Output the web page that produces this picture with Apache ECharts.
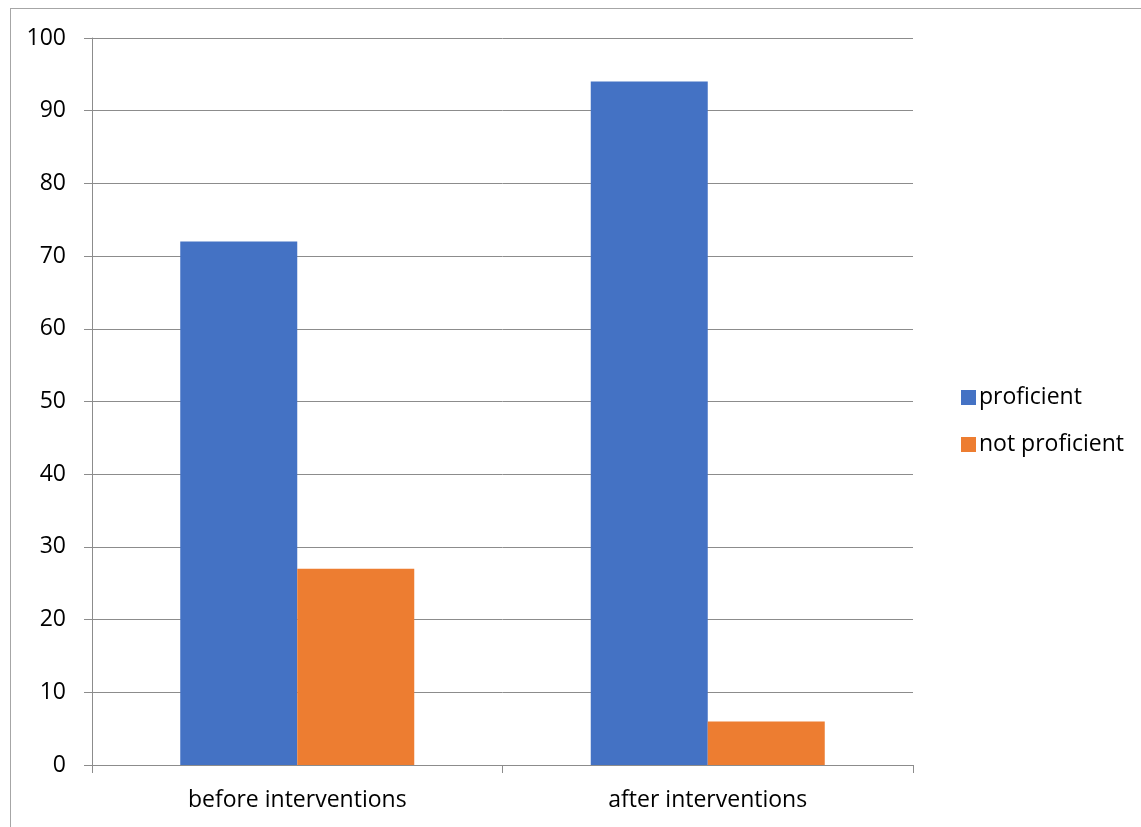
<!DOCTYPE html>
<html>
<head>
<meta charset="utf-8">
<script src="https://cdn.jsdelivr.net/npm/echarts@6/dist/echarts.min.js"></script>
<style>
  html, body { margin: 0; padding: 0; background: #fff; }
  #frame {
    position: absolute; left: 10px; top: 8px;
    width: 1200px; height: 900px;
    border: 1px solid #a6a6a6; box-sizing: border-box;
  }
  #chart { position: absolute; left: 0; top: 0; width: 1141px; height: 827px; }
</style>
</head>
<body>
<div id="frame"></div>
<div id="chart"></div>
<script>
const categories = ['before interventions', 'after interventions'];
const proficient = [72, 94];
const notProficient = [27, 6];
const seriesNames = ['proficient', 'not proficient'];

const FONT = '"Open Sans", Lato, sans-serif';
const GRAY = '#8c8c8c';

const chart = echarts.init(document.getElementById('chart'));

chart.setOption({
  animation: false,
  textStyle: { fontFamily: FONT },
  color: ['#4472C4', '#ED7D31'],
  grid: { left: 92, right: 228, top: 38, bottom: 62 },
  legend: {
    orient: 'vertical',
    left: 956,
    top: 381,
    itemWidth: 15,
    itemHeight: 15,
    itemGap: 24,
    icon: 'rect',
    textStyle: { fontSize: 23, color: '#000', fontFamily: FONT, padding: [0, 0, 0, -2] },
    data: seriesNames
  },
  xAxis: {
    type: 'category',
    data: categories,
    axisLine: { lineStyle: { color: GRAY } },
    axisTick: { show: true, length: 8, lineStyle: { color: GRAY } },
    axisLabel: { fontSize: 23, color: '#000', margin: 24 }
  },
  yAxis: {
    type: 'value',
    min: 0,
    max: 100,
    interval: 10,
    axisLine: { show: true, lineStyle: { color: GRAY } },
    axisTick: { show: true, length: 8, lineStyle: { color: GRAY } },
    axisLabel: { fontSize: 23, color: '#000', margin: 26 },
    splitLine: { lineStyle: { color: GRAY } }
  },
  series: [
    { name: seriesNames[0], type: 'bar', data: proficient, barWidth: 117, barGap: '0%' },
    { name: seriesNames[1], type: 'bar', data: notProficient, barWidth: 117, barGap: '0%' }
  ]
});
</script>
</body>
</html>
